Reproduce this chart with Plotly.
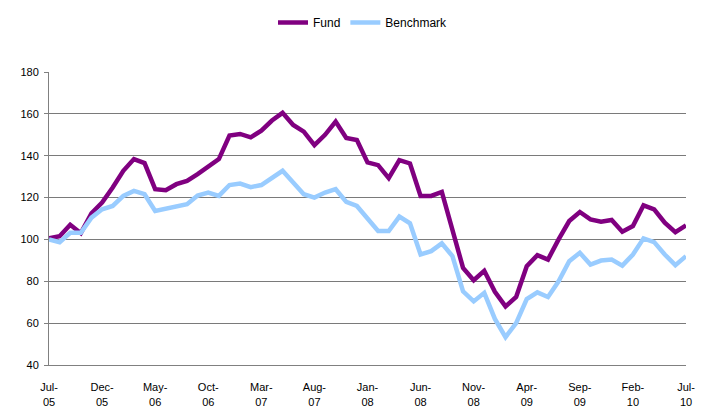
import plotly.graph_objects as go

months = list(range(61))
tick_vals = list(range(0, 61, 5))
tick_text = ["Jul-<br>05", "Dec-<br>05", "May-<br>06", "Oct-<br>06", "Mar-<br>07", "Aug-<br>07",
             "Jan-<br>08", "Jun-<br>08", "Nov-<br>08", "Apr-<br>09", "Sep-<br>09", "Feb-<br>10", "Jul-<br>10"]

fund = [100.5, 101.5, 107, 103, 112.5, 117.6, 124.8, 132.8, 138.4, 136.5,
        124, 123.5, 126.4, 128, 131.2, 134.7, 138.4, 149.6, 150.4, 148.8,
        152, 156.8, 160.5, 154.7, 151.5, 145.1, 150, 156.3, 148.5, 147.5,
        136.8, 135.5, 129.3, 137.9, 136.3, 120.8, 120.8, 122.7, 104.8, 86.4,
        80.5, 85, 75, 68, 72.5, 87.2, 92.5, 90.4, 100, 108.8,
        113.1, 109.6, 108.5, 109.3, 103.7, 106.4, 116.3, 114.4, 108, 103.5,
        106.7]

benchmark = [100, 98.7, 103.2, 103.2, 110.4, 114.4, 116, 120.8, 123.2, 121.6,
             113.6, 114.7, 115.5, 116.8, 121, 122.4, 120.8, 126, 126.7, 125,
             126, 129.6, 132.8, 127.2, 121.6, 120, 122.4, 124, 117.9, 116,
             109.6, 104, 104, 110.9, 107.7, 92.8, 94.4, 98.1, 92, 75.2,
             70.4, 74.5, 62, 53.3, 60, 71.5, 74.7, 72.5, 80, 89.6,
             93.6, 88, 89.9, 90.4, 87.5, 92.8, 100.5, 98.7, 92.8, 87.7,
             92]

fig = go.Figure()
fig.add_trace(go.Scatter(x=months, y=fund, name="Fund", mode="lines",
                         line=dict(color="#800080", width=4.5)))
fig.add_trace(go.Scatter(x=months, y=benchmark, name="Benchmark", mode="lines",
                         line=dict(color="#99CCFF", width=4.5)))

fig.update_layout(
    width=710, height=408,
    margin=dict(l=38, r=32, t=64, b=51),
    paper_bgcolor="white", plot_bgcolor="white",
    font=dict(family="Liberation Sans, Arial, sans-serif", size=11, color="black"),
    showlegend=True,
    legend=dict(orientation="h", x=0.5, xanchor="center", xref="container",
                y=1.0, yanchor="top", yref="container",
                font=dict(size=12), traceorder="normal"),
    xaxis=dict(range=[0, 60], tickvals=tick_vals, ticktext=tick_text,
               showgrid=False, zeroline=False, showline=True, linecolor="#808080",
               linewidth=1, ticks="", ticklabelstandoff=12, automargin=False,
               tickfont=dict(size=11)),
    yaxis=dict(range=[40, 180], dtick=20, showgrid=True, gridcolor="#7a7a7a",
               gridwidth=1, zeroline=False, showline=True, linecolor="#808080",
               linewidth=1, ticks="outside", ticklen=4, tickcolor="#808080",
               ticklabelstandoff=3, tickfont=dict(size=11)),
)

fig.write_html("out.html")
